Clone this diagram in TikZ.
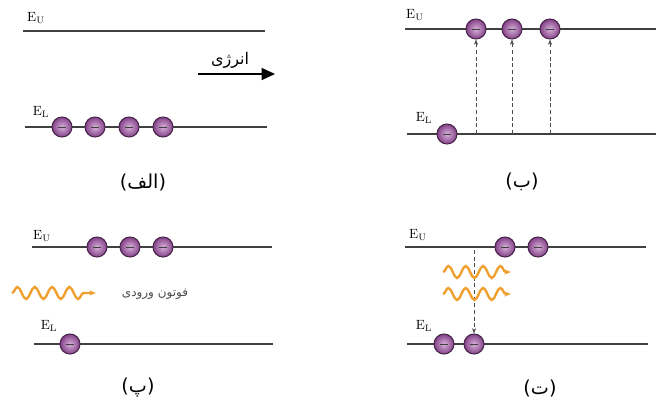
\documentclass[tikz,border=0pt]{standalone}
\usepackage{fontspec}
\newfontfamily\arabicfont[Script=Arabic]{DejaVu Sans}
\TeXXeTstate=1
\usetikzlibrary{arrows.meta}
\usetikzlibrary{decorations.pathmorphing}
\definecolor{elec}{HTML}{A552AA}
\definecolor{photon}{HTML}{F0A030}
\newcommand{\lev}[1]{$\mathrm{E}_{\mathrm{#1}}$}

\begin{document}
\begin{tikzpicture}[x=0.75pt,y=-0.75pt,
    electron/.style={circle, minimum size=15pt, inner sep=0pt, draw=elec!45!black, thick,
        inner color=elec!45!white, outer color=elec!80!black,
        path picture={\draw[gray!50!black, line width=0.7pt]
            ([xshift=-3.2pt]path picture bounding box.center) -- ([xshift=3.2pt]path picture bounding box.center);}},
    level/.style={line width=0.9pt, black!75},
    lbl/.style={font=\normalsize, inner sep=0pt},
    jump/.style={densely dashed, black!70, -{Stealth[length=4pt]}},
    wave/.style={photon, line width=1.8pt, decorate,
        decoration={snake, amplitude=4.5pt, segment length=13pt, post length=3pt}, -{Stealth[length=5pt]}},
    captxt/.style={font=\arabicfont\Large}]
    \useasboundingbox (0,0) rectangle (656,408);

    % (alef)
    \node[lbl] (eu1) at (36,18) {\lev{U}};
    \draw[level] (23,31) -- (265,31);
    \node[lbl] (el1) at (41,112) {\lev{L}};
    \draw[level] (25,127) -- (267,127);
    \foreach \i/\x in {1/62,2/95,3/129,4/163}
        \node[electron] (a\i) at (\x,127) {};
    \coordinate (e1) at (198,74);
    \coordinate (e2) at (275,74);
    \draw[line width=0.9pt, -{Triangle[length=10pt,width=9pt]}] (e1) -- (e2);
    \node[font=\arabicfont\large] (en) at (230,60) {\beginR انرژی\endR};
    \node[captxt] (c1) at (143,182) {\beginR(الف)\endR};

    % (be)
    \node[lbl] (eu2) at (415,15) {\lev{U}};
    \draw[level] (405,29) -- (656,29);
    \node[lbl] (el2) at (424,118) {\lev{L}};
    \draw[level] (407,134) -- (656,134);
    \node[electron] (b0) at (447,134) {};
    \foreach \i/\x in {1/476,2/512,3/550} {
        \node[electron] (b\i) at (\x,29) {};
        \coordinate (f\i) at (\x,134);
        \draw[jump] (f\i) -- (b\i);
    }
    \node[captxt] (c2) at (522,182) {\beginR(ب)\endR};

    % (pe)
    \node[lbl] (eu3) at (42,236) {\lev{U}};
    \draw[level] (32,247) -- (272,247);
    \foreach \i/\x in {1/97,2/130,3/163}
        \node[electron] (p\i) at (\x,247) {};
    \node[lbl] (el3) at (49,326) {\lev{L}};
    \draw[level] (34,344) -- (273,344);
    \node[electron] (p0) at (70,344) {};
    \coordinate (w1) at (12,293);
    \coordinate (w2) at (96,293);
    \draw[wave] (w1) -- (w2);
    \node[font=\arabicfont\small, text=black!70] (in) at (155,294) {\beginR فوتون ورودی\endR};
    \node[captxt] (c3) at (138,388) {\beginR(پ)\endR};

    % (te)
    \node[lbl] (eu4) at (418,235) {\lev{U}};
    \draw[level] (405,247) -- (646,247);
    \node[electron] (t1) at (505,247) {};
    \node[electron] (t2) at (538,247) {};
    \node[lbl] (el4) at (424,326) {\lev{L}};
    \draw[level] (407,344) -- (648,344);
    \node[electron] (t3) at (444,344) {};
    \node[electron] (t4) at (474,344) {};
    \coordinate (d1) at (474,250);
    \draw[jump] (d1) -- (t4);
    \coordinate (s1) at (443,272);
    \coordinate (s2) at (511,272);
    \coordinate (s3) at (443,294);
    \coordinate (s4) at (511,294);
    \draw[wave] (s1) -- (s2);
    \draw[wave] (s3) -- (s4);
    \node[captxt] (c4) at (540,388) {\beginR(ت)\endR};
\end{tikzpicture}
\end{document}
